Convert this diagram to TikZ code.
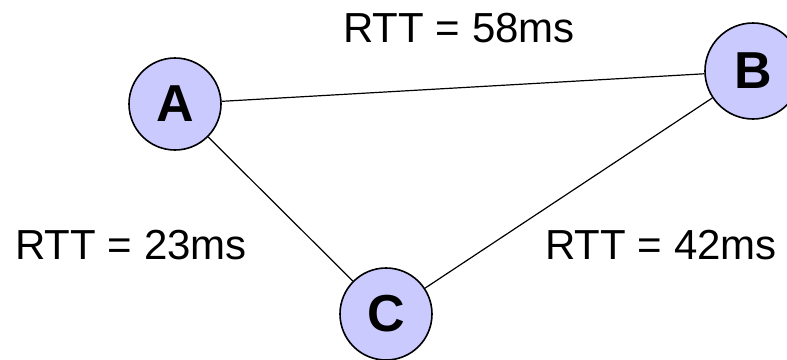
\documentclass[tikz,border=0pt]{standalone}
\usepackage{fontspec}
\setmainfont{Liberation Sans}
\definecolor{hostfill}{HTML}{CACAFF}

\begin{document}
\begin{tikzpicture}[x=1pt,y=-1pt,
  host/.style={circle,draw,line width=1.6pt,fill=hostfill,minimum size=92pt,inner sep=0pt,
    font=\fontsize{52}{52}\selectfont\bfseries},
  rtt/.style={font=\fontsize{42}{42}\selectfont,inner sep=0pt}]
\useasboundingbox (0,0) rectangle (787,359);
% Hosts
\node[host] (A) at (175,104) {A};
\node[host,minimum size=96pt] (B) at (753,71) {B};
\node[host] (C) at (386,314) {C};
% Links
\draw[line width=1.2pt] (A) -- (B);
\draw[line width=1.2pt] (A) -- (C);
\draw[line width=1.2pt] (B) -- (C);
% Round-trip times
\node[rtt] (ab) at (459,28) {RTT = 58ms};
\node[rtt] (ac) at (131,245) {RTT = 23ms};
\node[rtt] (bc) at (661,245) {RTT = 42ms};
\end{tikzpicture}
\end{document}
